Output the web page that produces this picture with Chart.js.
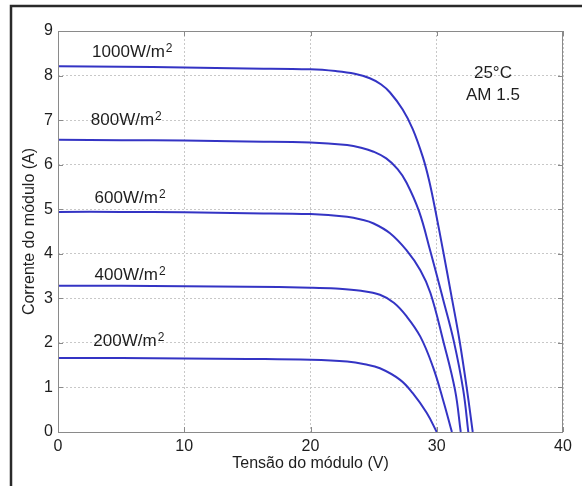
<!DOCTYPE html>
<html>
<head>
<meta charset="utf-8">
<script src="https://cdn.jsdelivr.net/npm/chart.js@4.4.1/dist/chart.umd.min.js"></script>
<style>
  html, body { margin: 0; padding: 0; background: #fff; }
  #wrap { width: 582px; height: 486px; position: relative; }
</style>
</head>
<body>
<div id="wrap"><canvas id="c" width="582" height="486"></canvas></div>
<script>
// I-V curves of a PV module at 25°C, AM 1.5, for five irradiance levels
const irradiances = ['1000', '800', '600', '400', '200'];

const v1000 = [0, 5, 10, 15, 20, 22, 23.5, 24.7, 25.6, 26.3, 27.3, 28.1, 28.9, 29.4, 29.9, 30.5, 31.2, 31.8, 32.4, 32.85];
const i1000 = [8.21, 8.2, 8.18, 8.16, 8.14, 8.1, 8.04, 7.94, 7.8, 7.62, 7.24, 6.8, 6.17, 5.64, 4.96, 4.07, 3.0, 2.06, 0.94, 0];

const v800 = [0, 5, 10, 15, 20, 22.9, 24, 25, 26, 26.9, 27.6, 28.6, 29.5, 30.5, 31.35, 32.1, 32.5];
const i800 = [6.56, 6.55, 6.54, 6.52, 6.5, 6.44, 6.38, 6.29, 6.14, 5.9, 5.6, 4.95, 4.05, 2.98, 2.04, 0.94, 0];

const v600 = [0, 5, 10, 15, 20, 22.9, 24, 25, 26.3, 27.6, 28.7, 29.5, 30.5, 31.45, 31.9];
const i600 = [4.94, 4.94, 4.93, 4.91, 4.89, 4.83, 4.77, 4.68, 4.46, 4.08, 3.63, 3.12, 2.06, 0.94, 0];

const v400 = [0, 5, 10, 15, 20, 22, 24, 25.5, 26.6, 27.6, 28.7, 29.7, 30.5, 31.2];
const i400 = [3.28, 3.28, 3.27, 3.26, 3.24, 3.22, 3.17, 3.08, 2.9, 2.6, 2.14, 1.46, 0.72, 0];

const v200 = [0, 5, 10, 15, 20, 22.9, 24.3, 25.5, 27.1, 28.1, 29.2, 30.0];
const i200 = [1.66, 1.66, 1.65, 1.64, 1.62, 1.58, 1.52, 1.43, 1.17, 0.87, 0.43, 0];

const xTicks = [0, 10, 20, 30, 40];
const yTicks = [0, 1, 2, 3, 4, 5, 6, 7, 8, 9];

// label anchors in data units: [voltage, current] (left / baseline)
const labelAnchors = [[2.7, 8.41], [2.6, 6.88], [2.9, 5.13], [2.9, 3.41], [2.8, 1.93]];
const condLines = ['25°C', 'AM 1.5'];
const condAnchors = [[34.45, 7.94], [34.45, 7.45]];

const curves = [[v1000, i1000], [v800, i800], [v600, i600], [v400, i400], [v200, i200]];
const toPoints = (vs, is) => vs.map((v, k) => ({ x: v, y: is[k] }));

const LINE = '#3434c4';
const AXIS = '#8a8a8a';
const FONT = '"Liberation Sans", Arial, Helvetica, sans-serif';

const decorPlugin = {
  id: 'decor',
  beforeDraw(chart) {
    const ctx = chart.ctx;
    ctx.save();
    ctx.fillStyle = '#fff';
    ctx.fillRect(0, 0, chart.width, chart.height);
    // figure frame
    ctx.strokeStyle = '#2a2a2a';
    ctx.lineWidth = 2.5;
    ctx.beginPath();
    ctx.moveTo(11, 486);
    ctx.lineTo(11, 6);
    ctx.lineTo(582, 6);
    ctx.stroke();
    ctx.restore();
  },
  afterDraw(chart) {
    const ctx = chart.ctx;
    const a = chart.chartArea;
    const xs = chart.scales.x, ys = chart.scales.y;
    ctx.save();
    // axes box
    ctx.strokeStyle = AXIS;
    ctx.lineWidth = 1;
    ctx.strokeRect(a.left + 0.5, a.top + 0.5, a.right - a.left - 1, a.bottom - a.top);
    // inward tick marks on all four sides
    const tl = 5;
    ctx.beginPath();
    xTicks.forEach(v => {
      const px = Math.round(xs.getPixelForValue(v)) + 0.5;
      ctx.moveTo(px, a.bottom); ctx.lineTo(px, a.bottom - tl);
      ctx.moveTo(px, a.top); ctx.lineTo(px, a.top + tl);
    });
    yTicks.forEach(v => {
      const py = Math.round(ys.getPixelForValue(v)) + 0.5;
      ctx.moveTo(a.left, py); ctx.lineTo(a.left + tl, py);
      ctx.moveTo(a.right, py); ctx.lineTo(a.right - tl, py);
    });
    ctx.stroke();

    // irradiance labels with superscript
    ctx.fillStyle = '#1e1e1e';
    ctx.textBaseline = 'alphabetic';
    ctx.textAlign = 'left';
    irradiances.forEach((txt, k) => {
      const px = xs.getPixelForValue(labelAnchors[k][0]);
      const py = ys.getPixelForValue(labelAnchors[k][1]);
      ctx.font = '17px ' + FONT;
      const main = txt + 'W/m';
      ctx.fillText(main, px, py);
      const w = ctx.measureText(main).width;
      ctx.font = '12px ' + FONT;
      ctx.fillText('2', px + w + 1, py - 5);
    });
    // test conditions
    ctx.font = '17px ' + FONT;
    ctx.textAlign = 'center';
    condLines.forEach((txt, k) => {
      ctx.fillText(txt, xs.getPixelForValue(condAnchors[k][0]), ys.getPixelForValue(condAnchors[k][1]));
    });
    ctx.restore();
  }
};

new Chart(document.getElementById('c'), {
  type: 'scatter',
  data: {
    datasets: curves.map((c, k) => ({
      label: irradiances[k] + ' W/m²',
      data: toPoints(c[0], c[1]),
      showLine: true,
      borderColor: LINE,
      backgroundColor: LINE,
      borderWidth: 2,
      pointRadius: 0,
      tension: 0.4,
      fill: false
    }))
  },
  options: {
    responsive: false,
    animation: false,
    devicePixelRatio: 1,
    layout: { padding: { left: 14, right: 19, top: 31, bottom: 10 } },
    plugins: { legend: { display: false }, tooltip: { enabled: false } },
    scales: {
      x: {
        type: 'linear', min: 0, max: 40,
        afterBuildTicks: s => { s.ticks = xTicks.map(v => ({ value: v })); },
        afterFit: s => { s.height = 44; },
        ticks: { font: { size: 16, family: FONT }, color: '#1e1e1e', padding: 5, maxRotation: 0 },
        grid: { color: '#c8c8c8', drawTicks: false, lineWidth: 1 },
        border: { display: false, dash: [2, 2] },
        title: { display: true, text: 'Tensão do módulo (V)', font: { size: 16, family: FONT }, color: '#1e1e1e', padding: { top: 0, bottom: 3 } }
      },
      y: {
        type: 'linear', min: 0, max: 9,
        afterBuildTicks: s => { s.ticks = yTicks.map(v => ({ value: v })); },
        afterFit: s => { s.width = 44; },
        ticks: { font: { size: 16, family: FONT }, color: '#1e1e1e', padding: 5 },
        grid: { color: '#c8c8c8', drawTicks: false, lineWidth: 1 },
        border: { display: false, dash: [2, 2] },
        title: { display: true, text: 'Corrente do módulo (A)', font: { size: 16, family: FONT }, color: '#1e1e1e', padding: { top: 6, bottom: 0 } }
      }
    }
  },
  plugins: [decorPlugin]
});
</script>
</body>
</html>
